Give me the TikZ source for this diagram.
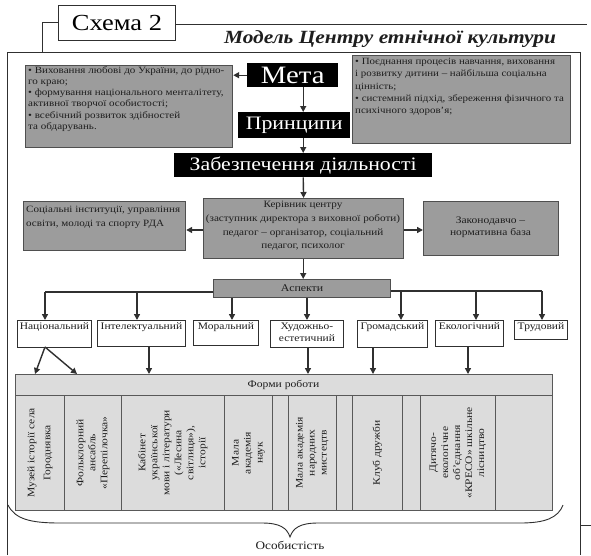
\documentclass[tikz,border=0pt]{standalone}
\usepackage{fontspec}
\setmainfont{Liberation Serif}[FakeStretch=1.15]
\usetikzlibrary{arrows.meta}
\definecolor{boxgray}{HTML}{9C9C9C}
\definecolor{pale}{HTML}{DCDCDC}
\definecolor{linec}{HTML}{303030}
\definecolor{txt}{HTML}{1E1E1E}
\newcommand\myfs[2]{\fontsize{#1}{#2}\selectfont}
\begin{document}
\begin{tikzpicture}[x=1pt,y=-1pt,
  graybox/.style={draw=linec!85, line width=1.2pt, fill=boxgray, inner sep=0pt, anchor=north west},
  blackbox/.style={fill=black, text=white, inner sep=0pt, anchor=north west},
  whitebox/.style={draw=linec, line width=0.9pt, fill=white, inner sep=0pt, anchor=north west},
  formbox/.style={draw=linec!80, line width=0.9pt, fill=pale, inner sep=0pt, anchor=north west},
  cellbox/.style={draw=linec!80, line width=0.8pt, fill=pale, inner sep=0pt, anchor=north west},
  boxtext/.style={text=txt, inner sep=0pt, font=\myfs{9.6}{11.3}},
  asptext/.style={text=txt, inner sep=0pt, anchor=north, align=center, font=\myfs{10}{12}},
  coltext/.style={text=txt, inner sep=0pt, rotate=90, align=center, font=\myfs{10}{12}},
  arr/.style={draw=linec, line width=1.4pt, -{Triangle[length=6pt,width=6pt]}},
  conn/.style={draw=linec, line width=1.4pt},
  framel/.style={draw=linec, line width=1pt}
]
\useasboundingbox (0,0) rectangle (591,555);
\fill[white] (0,0) rectangle (591,555);

% frame
\node[whitebox, minimum width=117pt, minimum height=35pt, font=\myfs{23}{23}] (schema) at (58,5) {Схема 2};
\coordinate (fr1) at (42,52);
\coordinate (fr2) at (587,24);
\draw[framel] (fr1) -- (fr1 |- schema.west) -- (schema.west);
\draw[framel] (schema.east |- fr2) -- (fr2);
\coordinate (fa) at (7,555);
\coordinate (fb) at (7,52);
\coordinate (fc) at (580,52);
\coordinate (fd) at (580,555);
\coordinate (fe) at (591,525);
\draw[framel] (fa) -- (fb) -- (fc) -- (fd);
\draw[framel] (fe -| fc) -- (fe);
\node[font=\myfs{18.6}{19}\bfseries\itshape, text=txt, inner sep=0pt] (title) at (390,39) {Модель Центру етнічної культури};

% top boxes
\node[graybox, minimum width=207pt, minimum height=82pt] (goalL) at (25,65) {};
\node[boxtext, anchor=north west, align=left] (goalLt) at (28,66) {• Виховання любові до України, до рідно-\\го краю;\\• формування національного менталітету,\\активної творчої особистості;\\• всебічний розвиток здібностей\\та обдарувань.};
\node[graybox, minimum width=218pt, minimum height=88pt] (goalR) at (352,55) {};
\node[boxtext, anchor=north west, align=left, font=\myfs{9.5}{12.3}] (goalRt) at (355,58) {• Поєднання процесів навчання, виховання\\і розвитку дитини – найбільша соціальна\\цінність;\\• системний підхід, збереження фізичного та\\психічного здоров’я;};

\node[blackbox, minimum width=91pt, minimum height=24pt, font=\myfs{25}{25}] (meta) at (247,63) {Мета};
\node[blackbox, minimum width=112pt, minimum height=26pt, font=\myfs{19}{19}] (princ) at (238,112) {Принципи};
\node[blackbox, minimum width=258pt, minimum height=24pt, font=\myfs{19}{19}] (zab) at (174,153) {Забезпечення діяльності};

\draw[arr] (meta.west) -- (meta.west -| goalL.east);
\draw[arr] (meta.south -| zab.north) -- (princ.north -| zab.north);
\draw[arr] (princ.south -| zab.north) -- (zab.north);

% management
\node[graybox, minimum width=200pt, minimum height=60pt] (head) at (203,198) {};
\node[boxtext, anchor=north, align=center, font=\myfs{9.7}{13.7}] (headt) at (303,201) {Керівник центру\\(заступник директора з виховної роботи)\\педагог – організатор, соціальний\\педагог, психолог};
\node[graybox, minimum width=162pt, minimum height=49pt] (soc) at (23,201) {};
\node[boxtext, anchor=north west, align=left, font=\myfs{9.6}{14}] (soct) at (26,206) {Соціальні інституції, управління\\освіти, молоді та спорту РДА};
\node[graybox, minimum width=135pt, minimum height=54pt] (law) at (423,201) {};
\node[boxtext, anchor=center, align=center, font=\myfs{10}{12.5}] (lawt) at (490.5,227) {Законодавчо –\\нормативна база};
\draw[arr] (zab.south) -- (head.north);
\coordinate (hy) at (0,230);
\draw[arr] (head.west |- hy) -- (soc.east |- hy);
\draw[arr] (head.east |- hy) -- (law.west |- hy);

% aspects
\node[graybox, minimum width=177pt, minimum height=18pt, font=\myfs{10.3}{12}, text=txt] (asp) at (213,279) {Аспекти};
\draw[arr] (head.south -| zab.south) -- (asp.north -| zab.south);

\node[whitebox, minimum width=74pt, minimum height=27pt] (nat) at (17,320) {};
\node[whitebox, minimum width=88pt, minimum height=26pt] (int) at (97,320) {};
\node[whitebox, minimum width=65pt, minimum height=25pt] (mor) at (193,320) {};
\node[whitebox, minimum width=73pt, minimum height=27pt] (hud) at (270,320) {};
\node[whitebox, minimum width=70pt, minimum height=27pt] (grom) at (357,320) {};
\node[whitebox, minimum width=68pt, minimum height=26pt] (eko) at (435,320) {};
\node[whitebox, minimum width=53pt, minimum height=19pt] (trud) at (514,320) {};
\node[asptext] (natt) at (nat.north) [yshift=-2.5pt] {Національний};
\node[asptext] (intt) at (int.north) [yshift=-2.5pt] {Інтелектуальний};
\node[asptext] (mort) at (mor.north) [yshift=-2.5pt] {Моральний};
\node[asptext] (hudt) at (hud.north) [yshift=-2.5pt] {Художньо-\\естетичний};
\node[asptext] (gromt) at (grom.north) [yshift=-2.5pt] {Громадський};
\node[asptext] (ekot) at (eko.north) [yshift=-2.5pt] {Екологічний};
\node[asptext] (trudt) at (trud.north) [yshift=-2.5pt] {Трудовий};

\coordinate (aL) at (45,292);
\coordinate (aR) at (542,291);
\coordinate (xInt) at (137,0);
\coordinate (xMor) at (232,0);
\coordinate (xHud) at (307,0);
\coordinate (xGrom) at (401,0);
\coordinate (xEko) at (476,0);
\draw[conn] (asp.west |- aL) -- (aL);
\draw[conn] (asp.east |- aR) -- (aR);
\draw[arr] (aL) -- (aL |- nat.north);
\draw[arr] (xInt |- aL) -- (xInt |- int.north);
\draw[arr] (xMor |- asp.south) -- (xMor |- mor.north);
\draw[arr] (xHud |- asp.south) -- (xHud |- hud.north);
\draw[arr] (xGrom |- aR) -- (xGrom |- grom.north);
\draw[arr] (xEko |- aR) -- (xEko |- eko.north);
\draw[arr] (aR) -- (aR |- trud.north);

% forms
\node[formbox, minimum width=537pt, minimum height=136pt] (forms) at (15,374) {};
\coordinate (hdr) at (0,395);
\draw[draw=linec!80, line width=0.9pt] (forms.west |- hdr) -- (forms.east |- hdr);
\node[text=txt, inner sep=0pt, font=\myfs{10.1}{12}] (formst) at (283.5,384.5) {Форми роботи};

\coordinate (n1) at (35,374);
\coordinate (n2) at (77,374);
\coordinate (nb) at (45,347);
\draw[arr] (nb) -- (n1);
\draw[arr] (nb) -- (n2);
\coordinate (xI2) at (149,0);
\coordinate (xH2) at (308,0);
\coordinate (xG2) at (373,0);
\coordinate (xE2) at (468,0);
\draw[arr] (xI2 |- int.south) -- (xI2 |- forms.north);
\draw[arr] (xH2 |- hud.south) -- (xH2 |- forms.north);
\draw[arr] (xG2 |- grom.south) -- (xG2 |- forms.north);
\draw[arr] (xE2 |- eko.south) -- (xE2 |- forms.north);

\node[cellbox, minimum width=49pt, minimum height=115pt] (c1) at (15,395) {};
\node[cellbox, minimum width=57pt, minimum height=115pt] (c2) at (64,395) {};
\node[cellbox, minimum width=103pt, minimum height=115pt] (c3) at (121,395) {};
\node[cellbox, minimum width=48pt, minimum height=115pt] (c4) at (224,395) {};
\node[cellbox, minimum width=48pt, minimum height=115pt] (c5) at (288,395) {};
\node[cellbox, minimum width=50pt, minimum height=115pt] (c6) at (352,395) {};
\node[cellbox, minimum width=75pt, minimum height=115pt] (c7) at (420,395) {};
\node[coltext, font=\myfs{10}{16}] (c1t) at (c1.center) {Музей історії села\\Городнявка};
\node[coltext] (c2t) at (c2.center) {Фольклорний\\ансабль\\«Перепілочка»};
\node[coltext] (c3t) at (c3.center) {Кабінет\\української\\мови і літератури\\(«Лесина\\світлиця»),\\історії};
\node[coltext] (c4t) at (c4.center) {Мала\\академія\\наук};
\node[coltext] (c5t) at (c5.center) {Мала академія\\народних\\мистецтв};
\node[coltext] (c6t) at (c6.center) {Клуб дружби};
\node[coltext] (c7t) at (c7.center) {Дитячо-\\екологічне\\об’єднання\\«КРЕСО» шкільне\\лісництво};

% brace
\coordinate (b1) at (8,505);
\coordinate (b2) at (290,537);
\coordinate (b3) at (563,505);
\draw[draw=linec, line width=0.9pt] (b1) .. controls (15,519) and (30,523) .. (60,523) -- (262,523) .. controls (280,523) and (287,528) .. (b2) .. controls (293,528) and (300,523) .. (318,523) -- (520,523) .. controls (545,523) and (558,518) .. (b3);
\node[text=txt, inner sep=0pt, font=\myfs{11.5}{12}] (pers) at (290,545) {Особистість};
\end{tikzpicture}
\end{document}
